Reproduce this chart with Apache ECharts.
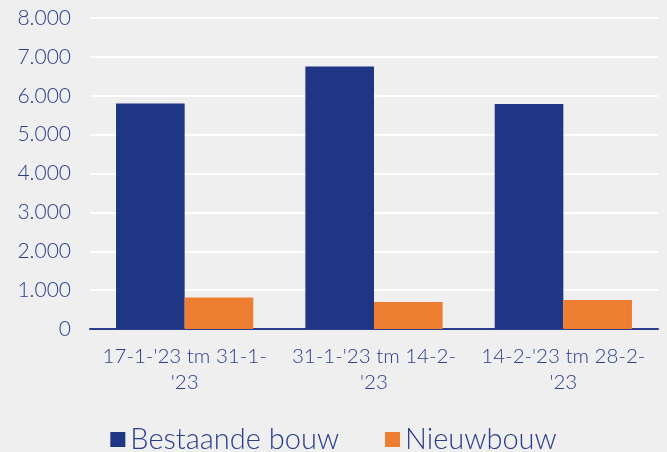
<!DOCTYPE html>
<html>
<head>
<meta charset="utf-8">
<script src="https://cdn.jsdelivr.net/npm/echarts@6/dist/echarts.min.js"></script>
<style>
  html, body { margin: 0; padding: 0; background: #efefef; }
  #chart { width: 667px; height: 452px; }
</style>
</head>
<body>
<div id="chart"></div>
<script>
var categories = ["17-1-'23 tm 31-1-\n'23", "31-1-'23 tm 14-2-\n'23", "14-2-'23 tm 28-2-\n'23"];
var seriesNames = ['Bestaande bouw', 'Nieuwbouw'];
var bestaandeBouw = [5800, 6750, 5790];
var nieuwbouw = [810, 695, 745];

var textColor = '#2b3d8c';
var fontFamily = 'Lato, "Noto Sans", sans-serif';

var myChart = echarts.init(document.getElementById('chart'));
myChart.setOption({
    backgroundColor: '#efefef',
    animation: false,
    grid: {
        left: 90,
        right: 9,
        top: 18,
        bottom: 123
    },
    legend: {
        top: 420,
        left: 'center',
        itemWidth: 15,
        itemHeight: 15,
        itemGap: 46,
        icon: 'rect',
        textStyle: {
            color: textColor,
            fontSize: 29,
            fontWeight: 300,
            fontFamily: fontFamily
        },
        data: seriesNames
    },
    xAxis: {
        type: 'category',
        data: categories,
        axisLine: {
            lineStyle: { color: '#2b3d8c', width: 2 }
        },
        axisTick: { show: false },
        axisLabel: {
            color: textColor,
            fontSize: 20.5,
            fontWeight: 300,
            fontFamily: fontFamily,
            lineHeight: 26,
            margin: 14,
            interval: 0
        }
    },
    yAxis: {
        type: 'value',
        min: 0,
        max: 8000,
        interval: 1000,
        axisLine: { show: false },
        axisTick: { show: false },
        splitLine: {
            lineStyle: { color: '#ffffff', width: 2 }
        },
        axisLabel: {
            color: textColor,
            fontSize: 21,
            fontWeight: 300,
            fontFamily: fontFamily,
            margin: 19,
            formatter: function (value) {
                return value === 0 ? '0' : (value / 1000).toFixed(3);
            }
        }
    },
    series: [{
        name: seriesNames[0],
        type: 'bar',
        barGap: '0%',
        barCategoryGap: '27.5%',
        itemStyle: { color: '#1f3684' },
        data: bestaandeBouw
    }, {
        name: seriesNames[1],
        type: 'bar',
        itemStyle: { color: '#ed7d31' },
        data: nieuwbouw
    }]
});
</script>
</body>
</html>
